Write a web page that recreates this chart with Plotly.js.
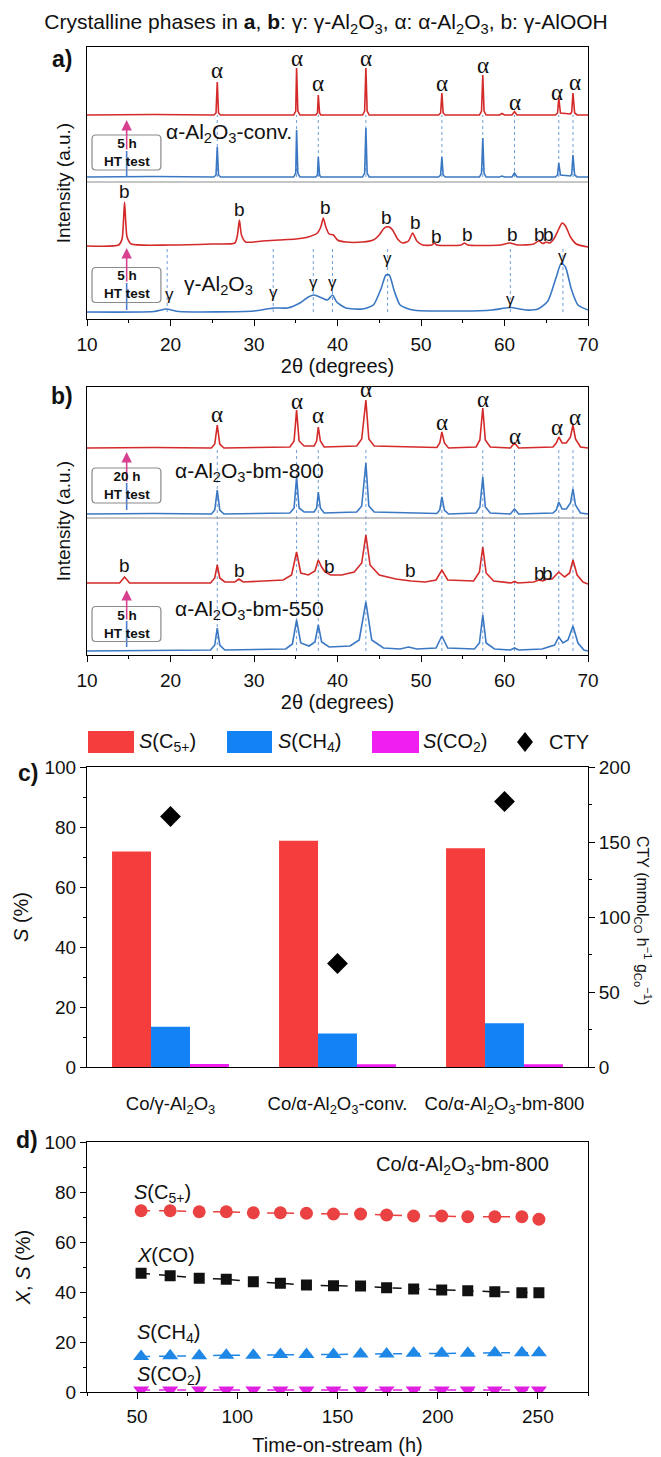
<!DOCTYPE html>
<html><head><meta charset="utf-8">
<script src="https://cdn.plot.ly/plotly-3.0.1.min.js"></script>
<style>html,body{margin:0;padding:0;background:#fff}#chart{width:661px;height:1457px}</style>
</head><body><div id="chart"></div>
<script>
// ---------------- DATA ----------------
// Panel a: XRD patterns (2theta in degrees, intensity in arbitrary units, stacked)
const aConvHT_x = [10,18,25.2,25.45,25.6,25.75,26.0,34.75,35.0,35.1,35.25,35.5,37.4,37.6,37.7,37.85,38.0,43.0,43.25,43.4,43.55,43.8,52.1,52.35,52.5,52.65,52.9,57.0,57.25,57.4,57.55,57.8,59.4,59.7,60.0,60.9,61.2,61.5,66.1,66.35,66.5,66.7,67.9,68.05,68.2,68.4,68.7,70];
const aConvHT_y = [204,204.5,204,206,237,206,204,204,208,251,208,204,204,206,224,206,204,204,208,251,208,204,204,206,226,206,204,204,208,244,208,204,204,205.5,204,204,207.5,204,204,206,221,206,205,207,226,206,204,204];
const aConv_x = aConvHT_x;
const aConv_y = [142,142.5,142,144,172,144,142,142,146,189,146,142,142,144,162,144,142,142,146,191,146,142,142,144,162,144,142,142,146,181,146,142,142,143,142,142,146,142,142,144,156,144,143,145,164,144,142,142];
const aGammaHT_x = [10,13.8,14.2,14.5,14.8,15.3,20,25,27.7,28.0,28.25,28.5,29.0,31,33,35,36.5,37.6,38.0,38.3,38.6,39.0,39.5,40.0,41,43,44.3,45.0,45.5,45.8,46.2,46.6,47.2,47.8,48.5,49.0,49.5,50.2,51.3,51.6,51.9,54.8,55.2,55.6,59.5,60.6,61.6,63.5,64.1,64.6,65.0,65.4,65.9,66.5,66.9,67.3,67.9,68.6,70];
const aGammaHT_y = [73,74,80,117,82,75,74,75,76,83,99,84,77,78,79,80,82,86,92,101,92,85,84,79,77,77,79,84,90,92,92,89,80,76,78,86,78,74,74,76,74,74,76,74,74,76,74,75,78,75.5,77,76,80,90,96,93,82,75,72];
const aGamma_x = [10,18,19.5,21,30,32.3,34,35.5,36.5,37.2,38,38.8,39.4,39.9,41,43,44.3,45.2,45.8,46.2,46.8,47.5,49,55,58.5,60.7,62.5,64,65.2,66.2,66.8,67.3,68.0,68.8,70];
const aGamma_y = [7,7.5,10,7.5,8,11,11,16,22,24,21.5,19,24,17,11,10,14,30,44,44,28,14,9,8,9,11.5,9,10,18,42,56,52,30,14,9];

// Panel b: XRD patterns
const b800HT_x = [10,18,24.9,25.3,25.6,25.9,26.4,34.3,34.8,35.1,35.4,36.0,37.2,37.5,37.7,37.95,38.4,42.3,42.9,43.4,43.75,44.4,51.9,52.25,52.5,52.8,53.3,56.6,57.05,57.4,57.7,58.3,60.7,61.2,61.7,65.8,66.2,66.5,66.9,67.4,67.9,68.2,68.5,69.1,70];
const b800HT_y = [207,207.5,207,211,230,211,207,208,214,245,214,209,209,214,228,214,208,209,216,255,216,209,207.5,212,223,212,207,208,215,247,215,208,207,212,207,208,212,218,212,212,218,230,216,208,207];
const b800_x = b800HT_x;
const b800_y = [141,141.5,141,145,165,145,141,142,147,178,147,143,143,147,163,147,142,143,149,192,149,143,141.5,145,158,145,141,142,148,178,148,142,141,146,141,142,145,153,146,146,152,166,150,142,141];
const b550HT_x = [10,13.9,14.5,15.1,20,24.8,25.3,25.6,25.9,26.5,27.7,28.2,28.7,33.5,34.5,35.1,35.6,36.5,37.3,37.7,38.1,38.5,39.2,40.5,42.0,42.9,43.4,43.9,45,47,48.8,50.5,51.8,52.5,53.2,56.3,57.0,57.4,57.8,58.7,60.8,61.2,61.6,63.5,64.1,64.6,65.1,65.7,66.5,67.2,67.8,68.2,68.7,69.4,70];
const b550HT_y = [72,72,78,72,72,72,77,90,77,73,73,76,73,75,80,103,82,80,84,95,88,83,80,80,83,92,120,90,80,76,74,73,75,85,75,74,83,108,82,74,72,73.5,72,73,75,74,76,76,83,78,82,95,80,73,71];
const b550_x = [10,20,24.8,25.3,25.6,25.9,26.5,33.8,34.6,35.1,35.6,36.6,37.3,37.7,38.1,39.0,41.5,42.6,43.4,44.1,45.5,47.5,48.5,49.5,51.8,52.5,53.2,56.4,57.0,57.4,57.8,58.8,60.7,61.2,61.7,64.5,66.0,66.5,67.0,67.6,68.2,68.8,69.5,70];
const b550_y = [4,4.5,5,10,27,10,5,6,11,35,12,9,13,30,13,8,9,15,53,15,7,6,8,6,7,19,7,6,12,40,12,6,5,7,5,6,10,18,12,15,29,12,5,4];

// Phase reflections (peak positions) and label heights
const alphaPos = [25.6,35.1,37.7,43.4,52.5,57.4,61.2,66.5,68.2];
const alphaLblA_x = [25.6,35.1,37.7,43.4,52.5,57.4,61.2,66.3,68.4];
const alphaLblA_y = [248,260,235,260,235,253,216,226,236];
const alphaLblB_x = [25.6,35.1,37.7,43.4,52.5,57.4,61.2,66.3,68.4];
const alphaLblB_y = [241,254,240,266,233,256,219,228,238];
const gammaPos = [19.6,32.3,37.1,39.4,46.0,60.7,67.0];
const gammaLbl_x = [19.9,32.3,37.1,39.4,46.0,60.7,67.0];
const gammaLbl_y = [24,26,36,36,60,19,62];
const bLblA_x = [14.5,28.3,38.6,45.9,49.4,51.8,55.6,60.9,64.2,65.3];
const bLblA_y = [127,109,111,101,96,82,84,84,84,84];
const bLblB_x = [14.5,28.3,39.1,48.8,64.2,65.2];
const bLblB_y = [90,85,89,85,82,82];

// Panel c: catalytic performance
const catalysts = ['Co/γ-Al<sub>2</sub>O<sub>3</sub>','Co/α-Al<sub>2</sub>O<sub>3</sub>-conv.','Co/α-Al<sub>2</sub>O<sub>3</sub>-bm-800'];
const selC5 = [71.8,75.4,72.9];
const selCH4 = [13.4,11.2,14.6];
const selCO2 = [1.0,0.9,0.9];
const ctyVals = [167,69,177];

// Panel d: time-on-stream
const tosHours = [52,66.5,81,94.5,108,121.5,134.5,148,161.5,174.5,188,202,215,228.5,242,250.5];
const dSC5 = [72.5,72.5,72.1,72.1,71.7,71.7,71.5,71.2,71.2,70.8,70.4,70.4,70.1,70.1,70.1,69.1];
const dXCO = [47.5,46.5,45.5,45.1,44.1,43.5,42.8,42.5,42.4,41.7,41.2,40.8,40.5,40.1,39.7,39.7];
const dSCH4 = [14.2,14.5,14.5,14.7,14.7,15.0,15.0,15.0,15.2,15.2,15.5,15.5,15.5,15.7,15.7,15.7];
const dSCO2 = [0.8,0.8,0.8,0.8,0.8,0.8,0.8,0.8,0.8,0.8,0.8,0.8,0.8,0.8,0.8,0.8];

// ---------------- STYLE / LAYOUT ----------------
const W = 661, H = 1457;
const px = v => v / W;
const py = v => 1 - v / H;
const FONT = 'Liberation Sans, Arial, sans-serif';
const XD = [px(87), px(588)];
const RED = '#d42a2a', BLUE = '#3b78c4';
const C_RED = '#f53d3d', C_BLUE = '#1282f5', C_MAG = '#f01ef0';
const D_RED = '#ea4242', D_BLUE = '#1f88e6', D_MAG = '#e020e0';
const TK = 19, TT = 20;

const xrd = (x, y, color, xa, ya, smooth) => ({
  x, y, xaxis: xa, yaxis: ya, type: 'scatter', mode: 'lines',
  line: {color, width: 1.6, shape: smooth ? 'spline' : 'linear', smoothing: 0.6},
  hoverinfo: 'skip', showlegend: false
});

const traces = [
  xrd(aConvHT_x, aConvHT_y, RED, 'x', 'y'),
  xrd(aConv_x, aConv_y, BLUE, 'x', 'y'),
  xrd(aGammaHT_x, aGammaHT_y, RED, 'x', 'y', true),
  xrd(aGamma_x, aGamma_y, BLUE, 'x', 'y', true),
  xrd(b800HT_x, b800HT_y, RED, 'x2', 'y2'),
  xrd(b800_x, b800_y, BLUE, 'x2', 'y2'),
  xrd(b550HT_x, b550HT_y, RED, 'x2', 'y2'),
  xrd(b550_x, b550_y, BLUE, 'x2', 'y2'),
  {type:'bar', x: catalysts, y: selC5, xaxis:'x3', yaxis:'y3', marker:{color:C_RED}, name:'S(C5+)', showlegend:false},
  {type:'bar', x: catalysts, y: selCH4, xaxis:'x3', yaxis:'y3', marker:{color:C_BLUE}, name:'S(CH4)', showlegend:false},
  {type:'bar', x: catalysts, y: selCO2, xaxis:'x3', yaxis:'y3', marker:{color:C_MAG}, name:'S(CO2)', showlegend:false},
  {type:'scatter', mode:'markers', x: catalysts, y: ctyVals, xaxis:'x3', yaxis:'y4', marker:{symbol:'diamond', size:16, color:'#000'}, name:'CTY', showlegend:false},
  {type:'scatter', mode:'lines+markers', x: tosHours, y: dSC5, xaxis:'x4', yaxis:'y5', line:{color:D_RED, dash:'dash', width:1.5}, marker:{symbol:'circle', size:13, color:D_RED}, showlegend:false},
  {type:'scatter', mode:'lines+markers', x: tosHours, y: dXCO, xaxis:'x4', yaxis:'y5', line:{color:'#111', dash:'dash', width:1.5}, marker:{symbol:'square', size:11, color:'#111'}, showlegend:false},
  {type:'scatter', mode:'lines+markers', x: tosHours, y: dSCH4, xaxis:'x4', yaxis:'y5', line:{color:D_BLUE, dash:'dash', width:1.5}, marker:{symbol:'triangle-up', size:14, color:D_BLUE}, showlegend:false},
  {type:'scatter', mode:'lines+markers', x: tosHours, y: dSCO2, xaxis:'x4', yaxis:'y5', line:{color:D_MAG, dash:'dash', width:1.5}, marker:{symbol:'triangle-down', size:14, color:D_MAG}, showlegend:false}
];

const base = {showline:true, linecolor:'#000', linewidth:1, showgrid:false, zeroline:false, tickfont:{size:TK, color:'#111'}};
const tickOut = {ticks:'outside', ticklen:6, tickwidth:1, tickcolor:'#000'};
const minorOut = d => ({dtick:d, ticks:'outside', ticklen:3, tickwidth:1, tickcolor:'#000'});

const layout = {
  width: W, height: H, margin:{l:0,r:0,t:0,b:0},
  paper_bgcolor:'#fff', plot_bgcolor:'#fff',
  font:{family: FONT, color:'#111', size:TK},
  showlegend:false, barmode:'group', bargap:0.3, bargroupgap:0,
  title:{text:'Crystalline phases in <b>a</b>, <b>b</b>: γ: γ-Al<sub>2</sub>O<sub>3</sub>, α: α-Al<sub>2</sub>O<sub>3</sub>, b: γ-AlOOH',
         x: px(326), xanchor:'center', y: py(22), yanchor:'middle', font:{size:21, color:'#111'}},
  xaxis: {...base, ...tickOut, mirror:true, domain:XD, anchor:'y', range:[10,70], tick0:10, dtick:10, minor:minorOut(5),
          ticklabelstandoff:2, title:{text:'2θ (degrees)', font:{size:TT}, standoff:4}},
  yaxis: {...base, mirror:true, domain:[py(319), py(47)], anchor:'x', range:[0,272], ticks:'', showticklabels:false,
          title:{text:'Intensity (a.u.)', font:{size:19}, standoff:10}},
  xaxis2: {...base, ...tickOut, mirror:true, domain:XD, anchor:'y2', range:[10,70], tick0:10, dtick:10, minor:minorOut(5),
          ticklabelstandoff:2, title:{text:'2θ (degrees)', font:{size:TT}, standoff:4}},
  yaxis2: {...base, mirror:true, domain:[py(655), py(387)], anchor:'x2', range:[0,268], ticks:'', showticklabels:false,
          title:{text:'Intensity (a.u.)', font:{size:19}, standoff:10}},
  xaxis3: {...base, mirror:true, domain:XD, anchor:'y3', type:'category', ticks:'outside', ticklen:20, tickcolor:'rgba(0,0,0,0)', tickfont:{size:18.5, color:'#111'}},
  yaxis3: {...base, ...tickOut, domain:[py(1067), py(767)], anchor:'x3', range:[0,100], tick0:0, dtick:20, minor:minorOut(10),
          title:{text:'<i>S</i> (%)', font:{size:TT}, standoff:10}},
  yaxis4: {...base, ...tickOut, overlaying:'y3', side:'right', anchor:'x3', range:[0,200], tick0:0, dtick:50, minor:minorOut(25)},
  xaxis4: {...base, ...tickOut, mirror:true, domain:XD, anchor:'y5', range:[25,275], tick0:50, dtick:50, minor:minorOut(25),
          ticklabelstandoff:1, title:{text:'Time-on-stream (h)', font:{size:TT}, standoff:12}},
  yaxis5: {...base, ...tickOut, mirror:true, domain:[py(1392), py(1142)], anchor:'x4', range:[0,100], tick0:0, dtick:20, minor:minorOut(10),
          title:{text:'<i>X</i>, <i>S</i> (%)', font:{size:TT}, standoff:8}},
  shapes: [], annotations: []
};

const S = layout.shapes, A = layout.annotations;
// dotted reflection guide lines
const dotLine = (xr, yr, x, y0, y1) => S.push({type:'line', layer:'below', xref:xr, yref:yr, x0:x, x1:x, y0, y1,
  line:{color:'#6f9fd8', width:1, dash:'dot'}});
alphaPos.forEach(p => dotLine('x','y',p,142,204));
gammaPos.forEach(p => dotLine('x','y',p,7,72));
alphaPos.forEach(p => dotLine('x2','y2',p,4,207));
// separators between sample pairs
S.push({type:'line', xref:'x', yref:'y', x0:10, x1:70, y0:137, y1:137, line:{color:'#8c8c8c', width:1}});
S.push({type:'line', xref:'x2', yref:'y2', x0:10, x1:70, y0:137, y1:137, line:{color:'#8c8c8c', width:1}});

// rounded box helper (data coords)
function roundBox(xr, yr, x0, x1, y0, y1) {
  const rx = 0.45, ry = 4;
  const p = `M ${x0+rx},${y0} L ${x1-rx},${y0} Q ${x1},${y0} ${x1},${y0+ry} L ${x1},${y1-ry} Q ${x1},${y1} ${x1-rx},${y1} ` +
            `L ${x0+rx},${y1} Q ${x0},${y1} ${x0},${y1-ry} L ${x0},${y0+ry} Q ${x0},${y0} ${x0+rx},${y0} Z`;
  S.push({type:'path', xref:xr, yref:yr, path:p, line:{color:'#8a8a8a', width:1.2}});
}
// arrows (blue tail, pink head) + HT test boxes
function htArrow(xr, yr, tail, mid, head, boxC, hours) {
  const x = 14.75;
  S.push({type:'line', xref:xr, yref:yr, x0:x, x1:x, y0:tail, y1:mid, line:{color:'#4a7fd0', width:1.6}});
  A.push({xref:xr, yref:yr, x, y:head, axref:xr, ayref:yr, ax:x, ay:mid, text:'', showarrow:true,
          arrowhead:2, arrowsize:1.3, arrowwidth:1.6, arrowcolor:'#d6408f', standoff:0, startstandoff:0});
  roundBox(xr, yr, 10.6, 18.85, boxC - 17.5, boxC + 17.5);
  A.push({xref:xr, yref:yr, x:14.75, y:boxC, text:'<b>'+hours+'</b><br><b>HT test</b>', showarrow:false,
          font:{size:13.5, color:'#111'}, yanchor:'middle', borderpad:0});
}
htArrow('x','y',142,168,199,166.5,'5 h');
htArrow('x','y',9,36,71,34,'5 h');
htArrow('x2','y2',145,172,203,169.5,'20 h');
htArrow('x2','y2',8,34,65,31,'5 h');

// phase labels
const lbl = (xr, yr, x, y, t, f, xa) => A.push({xref:xr, yref:yr, x, y, text:t, showarrow:false, font:f, xanchor:xa||'center', yanchor:'middle'});
const fA = {family:'Liberation Serif, Times New Roman, serif', size:23, color:'#111'};
const fB = {family:FONT, size:19, color:'#111'};
const fG = {family:FONT, size:17, color:'#111'};
alphaLblA_x.forEach((x,i) => lbl('x','y',x,alphaLblA_y[i],'α',fA));
alphaLblB_x.forEach((x,i) => lbl('x2','y2',x,alphaLblB_y[i],'α',fA));
bLblA_x.forEach((x,i) => lbl('x','y',x,bLblA_y[i],'b',fB));
bLblB_x.forEach((x,i) => lbl('x2','y2',x,bLblB_y[i],'b',fB));
gammaLbl_x.forEach((x,i) => lbl('x','y',x,gammaLbl_y[i],'γ',fG));

// sample names
const fS = {family:FONT, size:21, color:'#111'};
lbl('x','y',19.2,186,'α-Al<sub>2</sub>O<sub>3</sub>-conv.',fS,'left');
lbl('x','y',21.4,34,'γ-Al<sub>2</sub>O<sub>3</sub>',fS,'left');
lbl('x2','y2',20.3,183,'α-Al<sub>2</sub>O<sub>3</sub>-bm-800',fS,'left');
lbl('x2','y2',20.3,45,'α-Al<sub>2</sub>O<sub>3</sub>-bm-550',fS,'left');

// panel letters
const fL = {family:FONT, size:23, color:'#111'};
lbl('paper','paper',px(62),py(59),'<b>a)</b>',fL);
lbl('paper','paper',px(62),py(396),'<b>b)</b>',fL);
lbl('paper','paper',px(28),py(773),'<b>c)</b>',fL);
lbl('paper','paper',px(27),py(1140),'<b>d)</b>',fL);

// panel c manual legend
const legBox = (x0, x1, c) => S.push({type:'rect', xref:'paper', yref:'paper', x0:px(x0), x1:px(x1), y0:py(753), y1:py(731), fillcolor:c, line:{width:0}});
legBox(88,134,C_RED); legBox(227,272,C_BLUE); legBox(372,419,C_MAG);
const dx = 525, dy = 742, dr = 10;
S.push({type:'path', xref:'paper', yref:'paper', fillcolor:'#000', line:{width:0},
  path:`M ${px(dx)} ${py(dy-dr)} L ${px(dx+dr*0.8)} ${py(dy)} L ${px(dx)} ${py(dy+dr)} L ${px(dx-dr*0.8)} ${py(dy)} Z`});
const legTxt = (x, t) => A.push({xref:'paper', yref:'paper', x:px(x), y:py(742), text:t, showarrow:false, xanchor:'left', yanchor:'middle', font:{size:20, color:'#111'}});
legTxt(137,'<i>S</i>(C<sub>5+</sub>)'); legTxt(276,'<i>S</i>(CH<sub>4</sub>)'); legTxt(421,'<i>S</i>(CO<sub>2</sub>)'); legTxt(547,'CTY');

// right axis title of panel c
A.push({xref:'paper', yref:'paper', x:px(643), y:py(920), text:'CTY (mmol<sub>CO</sub> h<sup>−1</sup> g<sub>Co</sub><sup>−1</sup>)',
  textangle:90, showarrow:false, font:{size:16, color:'#111'}, xanchor:'center', yanchor:'middle'});

// panel d labels
lbl('x4','y5',168,90.8,'Co/α-Al<sub>2</sub>O<sub>3</sub>-bm-800',{family:FONT, size:20, color:'#111'},'left');
const fD = {family:FONT, size:20, color:'#111'};
lbl('x4','y5',47.5,79.6,'<i>S</i>(C<sub>5+</sub>)',fD,'left');
lbl('x4','y5',49,54.8,'<i>X</i>(CO)',fD,'left');
lbl('x4','y5',49,23.6,'<i>S</i>(CH<sub>4</sub>)',fD,'left');
lbl('x4','y5',49,6.5,'<i>S</i>(CO<sub>2</sub>)',fD,'left');

Plotly.newPlot('chart', traces, layout, {staticPlot:true, displayModeBar:false});
</script></body></html>
